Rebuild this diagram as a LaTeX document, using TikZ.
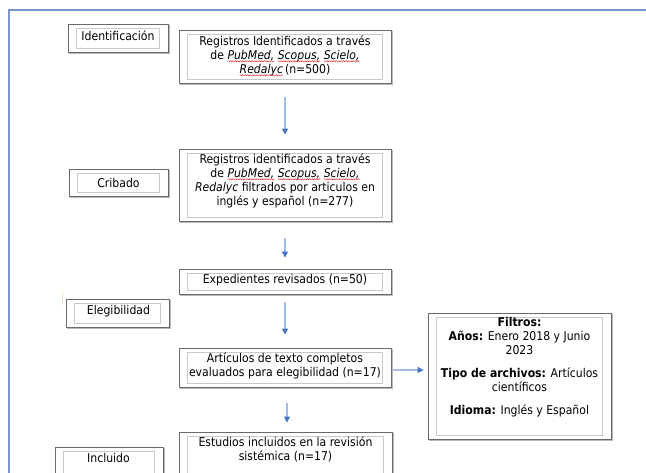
\documentclass[tikz,border=0pt]{standalone}
\usepackage{fontspec}
\setmainfont{DejaVu Sans Condensed}[BoldFont={DejaVu Sans Condensed Bold},ItalicFont={DejaVu Sans Condensed Oblique}]
\usetikzlibrary{arrows.meta,decorations.pathmorphing}
\definecolor{framecol}{RGB}{120,150,205}
\definecolor{boxgray}{RGB}{105,105,105}
\definecolor{shadowgray}{RGB}{185,185,185}
\definecolor{innergray}{RGB}{200,200,200}
\definecolor{shaftblue}{RGB}{165,188,230}
\definecolor{tipblue}{RGB}{68,114,196}
\definecolor{squigred}{RGB}{225,40,40}
\definecolor{markcol}{RGB}{240,228,190}
\newcommand\sqw[1]{\tikz[baseline=(sqword.base)]{\node[inner sep=0pt,outer sep=0pt,draw=none,fill=none,text width=,align=left,anchor=base] (sqword) {#1};\draw[overlay,squigred,line width=0.45pt,decorate,decoration={snake,amplitude=0.6pt,segment length=2.4pt}] ([yshift=-2.2pt]sqword.base west) -- ([yshift=-2.2pt]sqword.base east);}}
\newcommand\decobox[1]{%
  \draw[shadowgray,line width=1.3pt] ([shift={(1.5pt,-1.1pt)}]#1.south west) -- ([shift={(1.1pt,-1.1pt)}]#1.south east) -- ([shift={(1.1pt,-1.5pt)}]#1.north east);
  \draw[innergray,line width=0.8pt] ([shift={(9pt,-4.5pt)}]#1.north west) rectangle ([shift={(-9pt,4.5pt)}]#1.south east);}
\tikzset{
  box/.style={draw=boxgray,line width=0.9pt,inner sep=0pt,rectangle},
  txt/.style={inner sep=0pt,align=center,font=\fontsize{12.1}{14}\selectfont},
  flowarrow/.style={draw=shaftblue,line width=1.1pt,-{Triangle[length=6pt,width=6pt,color=tipblue]}}
}
\begin{document}
\begin{tikzpicture}[x=1pt,y=-1pt]
\useasboundingbox (0,0) rectangle (646,473);
\clip (0,0) rectangle (646,473);
% frame
\draw[framecol,line width=1.1pt] (9,480) -- (9,10) -- (650,10);
\draw[markcol,line width=0.8pt] (62,292) -- (62,305);
% boxes
\node[box,minimum width=100pt,minimum height=28pt] (ident) at (118,38) {};
\node[box,minimum width=212pt,minimum height=53pt] (b1) at (285,56.5) {};
\node[box,minimum width=99pt,minimum height=27pt] (crib) at (118.5,182.5) {};
\node[box,minimum width=212pt,minimum height=72pt] (b2) at (285,185) {};
\node[box,minimum width=212pt,minimum height=25pt] (b3) at (285,281.5) {};
\node[box,minimum width=103pt,minimum height=28pt] (eleg) at (117.5,313) {};
\node[box,minimum width=212pt,minimum height=39pt] (b4) at (285,367.5) {};
\node[box,minimum width=183pt,minimum height=126pt] (filt) at (519.5,376) {};
\node[box,minimum width=213pt,minimum height=60pt] (b5) at (285.5,462) {};
\node[box,minimum width=108pt,minimum height=60pt] (incl) at (109,477) {};
\decobox{ident}\decobox{b1}\decobox{crib}\decobox{b2}\decobox{b3}
\decobox{eleg}\decobox{b4}\decobox{filt}\decobox{b5}\decobox{incl}
% texts
\node[txt] (tident) at (118,35.5) {Identificación};
\node[txt] (tb1) at (285,55.5) {Registros Identificados a través\\ de \sqw{\itshape PubMed,} \sqw{\itshape Scopus,} \sqw{\itshape Scielo,}\\ \sqw{\itshape Redalyc}\,(n=500)};
\node[txt] (tcrib) at (118.5,182.5) {Cribado};
\node[txt] (tb2) at (285,180.5) {Registros identificados a través\\ de \sqw{\itshape PubMed,} \sqw{\itshape Scopus,} \sqw{\itshape Scielo,}\\ {\itshape Redalyc} filtrados por articulos en\\ inglés y español (n=277)};
\node[txt] (tb3) at (285,280.5) {Expedientes revisados (n=50)};
\node[txt] (teleg) at (118.5,311.5) {Elegibilidad};
\node[txt] (tb4) at (285,365.5) {Artículos de texto completos\\ evaluados para elegibilidad (n=17)};
\node[txt] (tfilt) at (519.5,367.5) {\textbf{Filtros:}\\ \textbf{Años:} Enero 2018 y Junio\\ 2023\\[9pt] \textbf{Tipo de archivos:} Artículos\\ científicos\\[9pt] \textbf{Idioma:} Inglés y Español};
\node[txt] (tb5) at (285.5,449) {Estudios incluidos en la revisión\\ sistémica (n=17)};
\node[txt] (tincl) at (108.5,457.5) {Incluido};
% arrows
\draw[flowarrow] ([yshift=-14pt]b1.south) -- ([yshift=14pt]b2.north);
\draw[flowarrow] ([yshift=-17pt]b2.south) -- ([yshift=11pt]b3.north);
\draw[flowarrow] ([yshift=-8pt]b3.south) -- ([yshift=13pt]b4.north);
\draw[flowarrow] ([shift={(2pt,-16pt)}]b4.south) -- ([shift={(1.5pt,9pt)}]b5.north);
\coordinate (h1) at ([shift={(2pt,-2.5pt)}]b4.east);
\coordinate (h2) at ([xshift=-4pt]h1 -| filt.west);
\draw[flowarrow] (h1) -- (h2);
\end{tikzpicture}
\end{document}
